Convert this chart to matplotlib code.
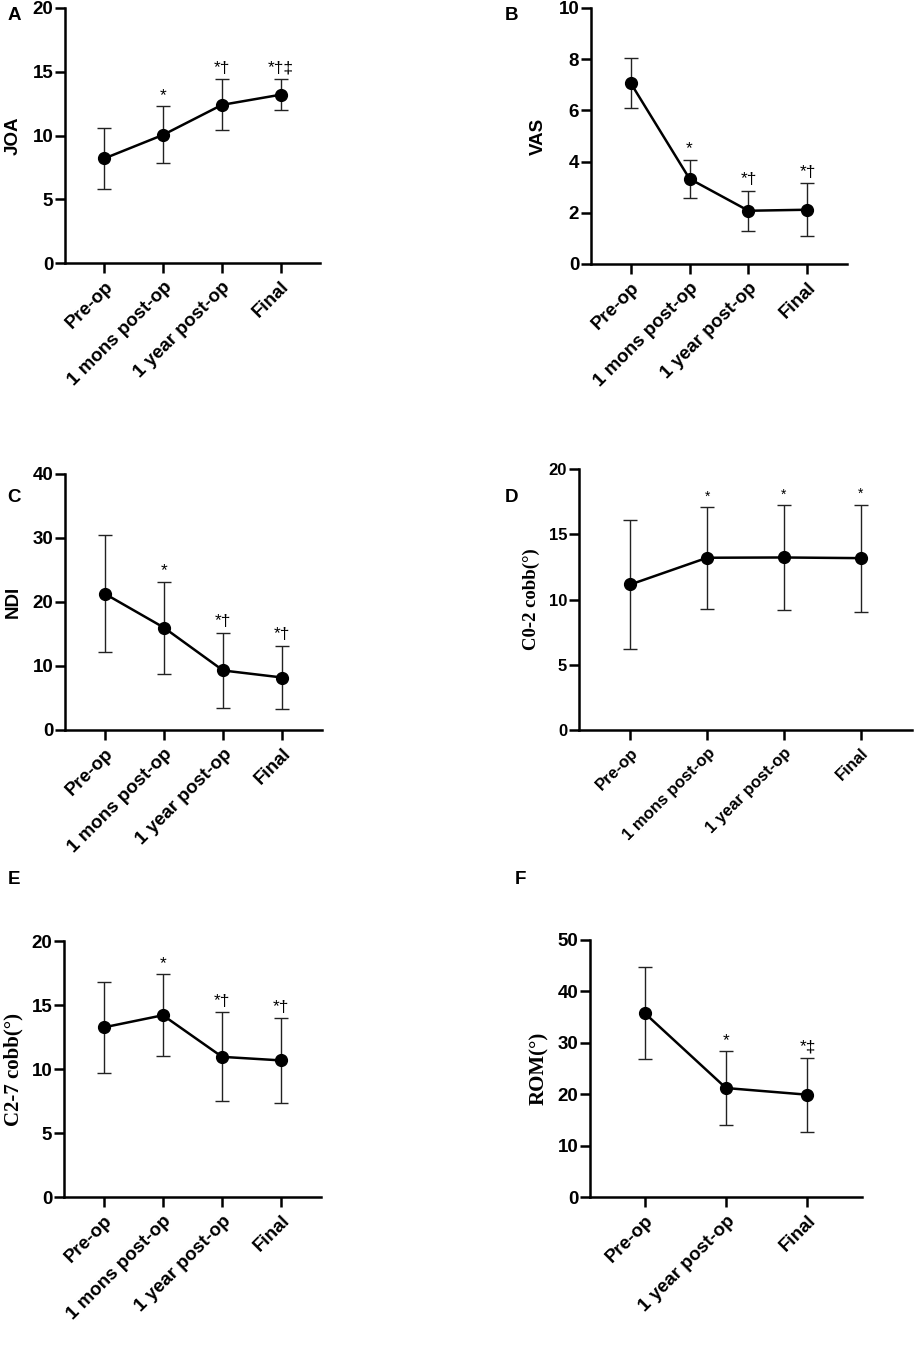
import matplotlib
matplotlib.use('Agg')
import matplotlib.pyplot as plt

plt.rcParams['font.family'] = ['Liberation Sans', 'DejaVu Sans']
plt.rcParams['font.weight'] = 'bold'

# data (mean and SD)
cats4 = ['Pre-op', '1 mons post-op', '1 year post-op', 'Final']
cats3 = ['Pre-op', '1 year post-op', 'Final']

joa_mean = [8.2, 10.05, 12.4, 13.2]
joa_sd = [2.42, 2.23, 2.0, 1.23]
joa_marks = ['', '*', '*†', '*†‡']

vas_mean = [7.08, 3.33, 2.08, 2.12]
vas_sd = [0.97, 0.74, 0.78, 1.04]
vas_marks = ['', '*', '*†', '*†']

ndi_mean = [21.3, 16.0, 9.3, 8.2]
ndi_sd = [9.1, 7.2, 5.9, 4.95]
ndi_marks = ['', '*', '*†', '*†']

c02_mean = [11.15, 13.2, 13.22, 13.17]
c02_sd = [4.93, 3.9, 4.0, 4.1]
c02_marks = ['', '*', '*', '*']

c27_mean = [13.25, 14.2, 10.95, 10.67]
c27_sd = [3.57, 3.2, 3.47, 3.3]
c27_marks = ['', '*', '*†', '*†']

rom_mean = [35.8, 21.2, 19.9]
rom_sd = [9.0, 7.15, 7.2]
rom_marks = ['', '*', '*‡']

fig = plt.figure(figsize=(9.14, 13.5), dpi=100)
W, H = 914, 1350


def make_ax(l, t, r, b):
    return fig.add_axes([l / W, 1 - b / H, (r - l) / W, (b - t) / H])


def panel(ax, cats, mean, sd, marks, ymax, ystep, ylabel, serif=False,
          tick_fs=13.5, ylab_fs=13.5, mark_fs=12.5):
    x = list(range(len(cats)))
    ax.errorbar(x, mean, yerr=sd, fmt='none', ecolor='#222222',
                elinewidth=1, capsize=5, capthick=1, zorder=2)
    ax.plot(x, mean, '-o', color='black', lw=1.8, ms=8.5, zorder=3)
    for i, m in enumerate(marks):
        if m:
            ax.annotate(m, (i, mean[i] + sd[i]), xytext=(0, 2.5),
                        textcoords='offset points', ha='center', va='bottom',
                        fontsize=mark_fs, fontweight='normal')
    ax.set_xlim(-0.67, len(cats) - 1 + 0.67)
    ax.set_ylim(0, ymax)
    ax.set_yticks(range(0, ymax + 1, ystep))
    ax.set_xticks(x)
    ax.set_xticklabels(cats, rotation=45, ha='right', va='top',
                       rotation_mode='anchor', fontsize=tick_fs,
                       fontweight='bold')
    for t in ax.get_yticklabels():
        t.set_fontsize(tick_fs)
        t.set_fontweight('bold')
    if serif:
        ax.set_ylabel(ylabel, fontsize=ylab_fs, fontweight='bold',
                      family=['Liberation Serif', 'DejaVu Serif'], labelpad=6)
    else:
        ax.set_ylabel(ylabel, fontsize=ylab_fs, fontweight='bold', labelpad=8)
    ax.spines['top'].set_visible(False)
    ax.spines['right'].set_visible(False)
    for s in ['left', 'bottom']:
        ax.spines[s].set_linewidth(1.8)
    ax.tick_params(axis='both', direction='out', length=7, width=1.8)
    ax.tick_params(axis='y', pad=1.5)
    ax.tick_params(axis='x', pad=4)


axA = make_ax(65, 8, 320, 263)
panel(axA, cats4, joa_mean, joa_sd, joa_marks, 20, 5, 'JOA')
axB = make_ax(591, 8, 847, 264)
panel(axB, cats4, vas_mean, vas_sd, vas_marks, 10, 2, 'VAS')
axC = make_ax(65, 474, 322, 730)
panel(axC, cats4, ndi_mean, ndi_sd, ndi_marks, 40, 10, 'NDI')
axD = make_ax(579, 469, 912, 730)
panel(axD, cats4, c02_mean, c02_sd, c02_marks, 20, 5, 'C0-2 cobb(°)',
      serif=True, tick_fs=12, ylab_fs=13.5, mark_fs=10)
axE = make_ax(64, 941, 321, 1197)
panel(axE, cats4, c27_mean, c27_sd, c27_marks, 20, 5, 'C2-7 cobb(°)',
      serif=True, ylab_fs=15)
axF = make_ax(590, 940, 862, 1197)
panel(axF, cats3, rom_mean, rom_sd, rom_marks, 50, 10, 'ROM(°)',
      serif=True, ylab_fs=15)

# panel letters
for lab, px, py in [('A', 14, 16), ('B', 512, 16), ('C', 14, 498),
                    ('D', 512, 498), ('E', 14, 880), ('F', 520, 880)]:
    fig.text(px / W, 1 - py / H, lab, fontsize=13.5, fontweight='bold',
             ha='center', va='center')

fig.savefig('out.png', dpi=100)
